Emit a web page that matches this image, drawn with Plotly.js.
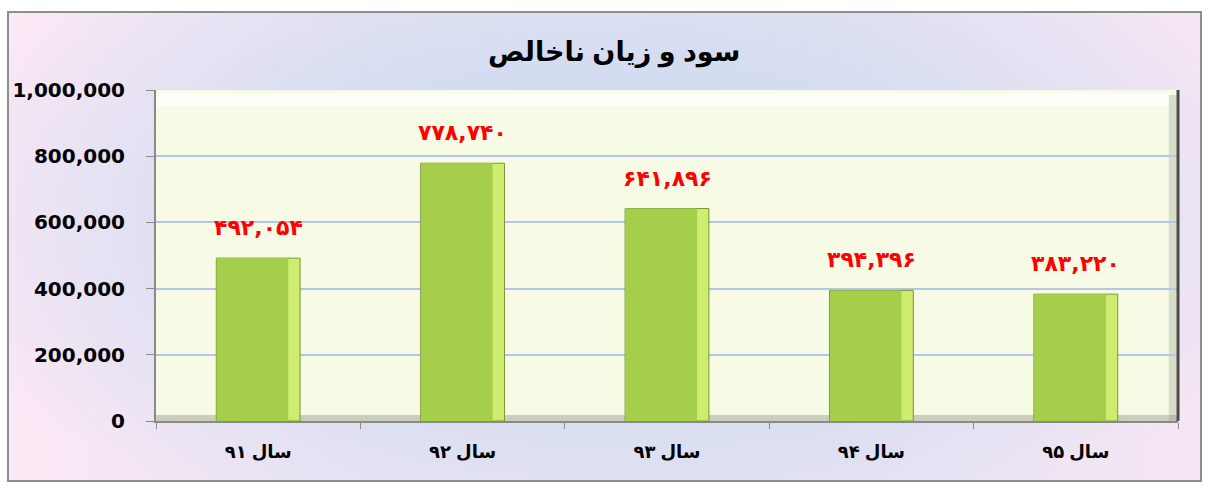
<!DOCTYPE html>
<html>
<head>
<meta charset="utf-8">
<script src="https://cdn.plot.ly/plotly-3.0.1.min.js"></script>
<style>
  html, body { margin: 0; padding: 0; background: #ffffff; }
  #wrap { position: relative; width: 1209px; height: 486px; overflow: hidden; background: #ffffff; }
  #frame {
    position: absolute; left: 7px; top: 11px; width: 1195px; height: 471px;
    border: 2px solid #8e8e8e; box-sizing: border-box;
    background:
      radial-gradient(ellipse 60% 70% at 50% 45%, rgba(190,209,236,0.95) 0%, rgba(206,218,240,0.8) 45%, rgba(246,228,244,0) 100%),
      linear-gradient(to right, #fbe8f5 0%, #e9e4f3 30%, #e6e3f3 70%, #f6e6f4 100%);
  }
  #chart { position: absolute; left: 0; top: 0; width: 1209px; height: 486px; }
</style>
</head>
<body>
<div id="wrap">
  <div id="frame"></div>
  <div id="chart"></div>
</div>
<script>
// ---- data ----
const categories = ["سال ۹۱", "سال ۹۲", "سال ۹۳", "سال ۹۴", "سال ۹۵"];
const values = [492054, 778740, 641896, 394396, 383220];
const valueLabels = ["۴۹۲,۰۵۴", "۷۷۸,۷۴۰", "۶۴۱,۸۹۶", "۳۹۴,۳۹۶", "۳۸۳,۲۲۰"];
const yTickVals = [0, 200000, 400000, 600000, 800000, 1000000];
const yTickText = ["0", "200,000", "400,000", "600,000", "800,000", "1,000,000"];
const titleText = "سود و زیان ناخالص";

// ---- traces ----
const barBase = {
  type: "bar",
  x: categories,
  y: values,
  width: 0.41,
  marker: { color: "#cdec70", line: { color: "#7b9736", width: 1 } },
  hoverinfo: "x+y",
  showlegend: false
};
const barFace = {
  type: "bar",
  x: categories,
  y: values,
  width: 0.35,
  offset: -0.203,
  marker: { color: "#a5ce4a", line: { width: 0 } },
  hoverinfo: "skip",
  showlegend: false
};

const annotations = categories.map((c, i) => ({
  x: c,
  y: values[i],
  text: valueLabels[i],
  showarrow: false,
  yanchor: "bottom",
  yshift: 16,
  font: { family: "DejaVu Sans", size: 22, color: "#ff0000", weight: "bold" }
}));

const layout = {
  width: 1209,
  height: 486,
  paper_bgcolor: "rgba(0,0,0,0)",
  plot_bgcolor: "#f7fbe5",
  margin: { l: 156, r: 31, t: 90, b: 65 },
  barmode: "overlay",
  title: {
    text: "<b>" + titleText + "</b>",
    x: 0.508, xanchor: "center",
    y: 0.893, yanchor: "middle", yref: "container",
    font: { family: "Liberation Sans, DejaVu Sans", size: 27, color: "#000000" }
  },
  xaxis: {
    type: "category",
    showline: true, linecolor: "#8a8a8a", linewidth: 2,
    ticks: "outside", tickson: "boundaries", ticklen: 6, tickcolor: "#8a8a8a",
    ticklabelstandoff: 13,
    tickfont: { family: "Liberation Sans, DejaVu Sans", size: 18, color: "#000000", weight: "bold" },
    showgrid: false,
    fixedrange: true
  },
  yaxis: {
    range: [0, 1000000],
    tickvals: yTickVals,
    ticktext: yTickText,
    showline: true, linecolor: "#8a8a8a", linewidth: 2,
    ticks: "outside", ticklen: 8, tickcolor: "#8a8a8a",
    ticklabelstandoff: 17,
    tickfont: { family: "DejaVu Sans", size: 20, color: "#000000", weight: "bold" },
    showgrid: true, gridcolor: "#b3c6e6", gridwidth: 2,
    zeroline: false,
    fixedrange: true
  },
  shapes: [
    { type: "line", xref: "paper", yref: "paper", x0: 1, x1: 1, y0: 0, y1: 1,
      line: { color: "#4a4a4a", width: 3 } },
    { type: "rect", xref: "paper", yref: "paper", x0: 0.991, x1: 0.9985, y0: 0, y1: 0.985,
      fillcolor: "rgba(150,150,140,0.3)", line: { width: 0 }, layer: "below" },
    { type: "rect", xref: "paper", yref: "paper", x0: 0, x1: 1, y0: 0, y1: 0.018,
      fillcolor: "rgba(140,140,130,0.4)", line: { width: 0 }, layer: "below" },
    { type: "rect", xref: "paper", yref: "paper", x0: 0, x1: 0.991, y0: 0.95, y1: 0.99,
      fillcolor: "rgba(255,255,255,0.75)", line: { width: 0 }, layer: "below" }
  ],
  annotations: annotations
};

Plotly.newPlot("chart", [barBase, barFace], layout, { displayModeBar: false, staticPlot: true });
</script>
</body>
</html>
